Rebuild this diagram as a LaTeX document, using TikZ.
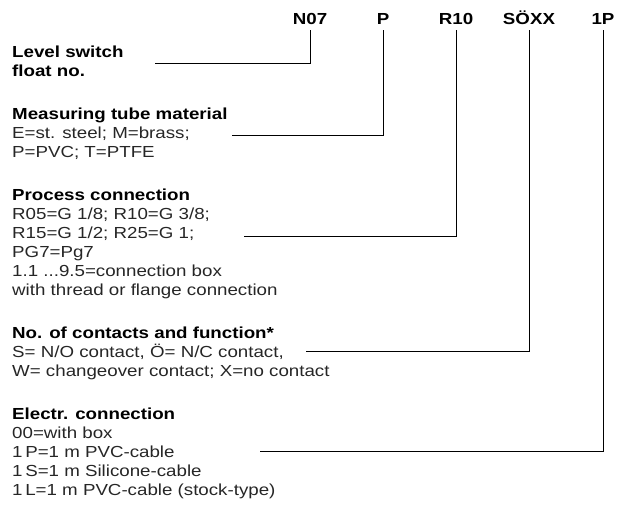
\documentclass[tikz,border=0pt]{standalone}
\usepackage{fontspec}
\setmainfont{Liberation Sans}[FakeStretch=1.17]
\usetikzlibrary{calc}

\begin{document}
\begin{tikzpicture}[x=1pt,y=-1pt,
	code/.style={font=\fontsize{16}{18}\selectfont\bfseries,anchor=base,inner sep=0pt,outer ysep=5pt},
	head/.style={font=\fontsize{16}{18}\selectfont\bfseries,anchor=base west,inner sep=0pt},
	body/.style={font=\fontsize{16}{18}\selectfont,anchor=base west,inner sep=0pt,text=black!85},
	lead/.style={line width=0.8pt}]
\useasboundingbox (0,0) rectangle (623,511);
		% type code
		\node[code] (n07) at (310,25) {N07};
		\node[code] (p) at (383,25) {P};
		\node[code] (r10) at (456,25) {R10};
		\node[code] (soxx) at (529,25) {SÖXX};
		\node[code] (onep) at (603,25) {1P};
		% level switch
		\node[head] (lvlA) at (12,57) {Level switch};
		\node[head] (lvlB) at (12,76) {float no.};
		% tube material
		\node[head] (matH) at (12,119) {Measuring tube material};
		\node[body] (matA) at (12,138) {E=st. steel; M=brass;};
		\node[body] (matB) at (12,157) {P=PVC; T=PTFE};
		% process connection
		\node[head] (procH) at (12,200) {Process connection};
		\node[body] (procA) at (12,219) {R05=G 1/8; R10=G 3/8;};
		\node[body] (procB) at (12,238) {R15=G 1/2; R25=G 1;};
		\node[body] (procC) at (12,257) {PG7=Pg7};
		\node[body] (procD) at (12,276) {1.1 ...9.5=connection box};
		\node[body] (procE) at (12,295) {with thread or flange connection};
		% contacts
		\node[head] (contH) at (12,338) {No. of contacts and function*};
		\node[body] (contA) at (12,357) {S= N/O contact, Ö= N/C contact,};
		\node[body] (contB) at (12,376) {W= changeover contact; X=no contact};
		% electrical connection
		\node[head] (elecH) at (12,419) {Electr. connection};
		\node[body] (elecA) at (12,438) {00=with box};
		\node[body] (elecB) at (12,457) {1\,P=1 m PVC-cable};
		\node[body] (elecC) at (12,476) {1\,S=1 m Silicone-cable};
		\node[body] (elecD) at (12,495) {1\,L=1 m PVC-cable (stock-type)};
		% free ends of the leaders
		\coordinate (lvl) at (155,63);
		\coordinate (mat) at (232,135);
		\coordinate (proc) at (244,236);
		\coordinate (cont) at (306,351);
		\coordinate (elec) at (260,451);
		\draw[lead] (lvl) -| (n07.south);
		\draw[lead] (mat) -| (p.south);
		\draw[lead] (proc) -| (r10.south);
		\draw[lead] (cont) -| (soxx.south);
		\draw[lead] (elec) -| (onep.south);
\end{tikzpicture}
\end{document}
